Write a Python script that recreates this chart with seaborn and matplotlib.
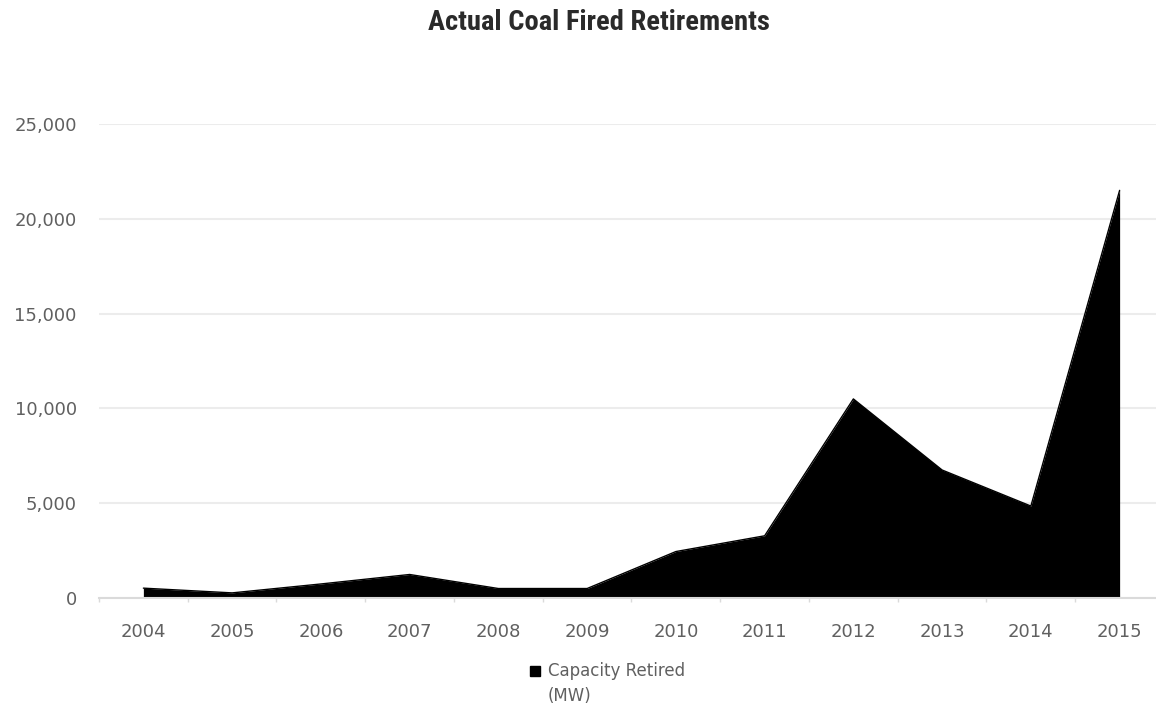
import matplotlib
matplotlib.use("Agg")
import matplotlib.pyplot as plt
import matplotlib.ticker as mticker
from matplotlib.lines import Line2D
import seaborn as sns
import pandas as pd

years = ["2004", "2005", "2006", "2007", "2008", "2009",
         "2010", "2011", "2012", "2013", "2014", "2015"]
capacity_mw = [520, 270, 740, 1240, 500, 500,
               2450, 3280, 10500, 6750, 4850, 21500]
y_ticks = [0, 5000, 10000, 15000, 20000, 25000]
title = "Actual Coal Fired Retirements"
legend_label = "Capacity Retired\n(MW)"

df = pd.DataFrame({"year": years, "capacity": capacity_mw})
df["pos"] = range(len(df))

sns.set_theme(style="white")
plt.rcParams["font.family"] = ["DejaVu Sans"]

fig = plt.figure(figsize=(11.56, 7.06), dpi=100)
W, H = 1156, 706
left, right, bottom_px, top_px = 99, 1164, 598, 124
ax = fig.add_axes([left / W, (H - bottom_px) / H,
                   (right - left) / W, (bottom_px - top_px) / H])

ax.fill_between(df["pos"], 0, df["capacity"], color="black", linewidth=0, zorder=3)
sns.lineplot(data=df, x="pos", y="capacity", ax=ax, color="black",
             linewidth=1, zorder=3)

ax.set_xlim(-0.5, len(years) - 0.5)
ax.set_ylim(0, 25000)
ax.set_yticks(y_ticks)
ax.yaxis.set_major_formatter(mticker.FuncFormatter(lambda v, p: f"{int(v):,}"))
ax.set_xticks(range(len(years)))
ax.set_xticklabels(years)
ax.xaxis.set_minor_locator(mticker.FixedLocator([i - 0.5 for i in range(len(years) + 1)]))

ax.grid(axis="y", color="#ececec", linewidth=1.5, zorder=0)
ax.set_axisbelow(True)
for s in ["top", "right", "left"]:
    ax.spines[s].set_visible(False)
ax.spines["bottom"].set_color("#dadada")
ax.spines["bottom"].set_linewidth(1.5)
ax.spines["bottom"].set_zorder(4)

ax.tick_params(axis="y", length=0, pad=16, labelsize=13, labelcolor="#606060")
ax.tick_params(axis="x", which="major", length=0, pad=18, labelsize=13, labelcolor="#606060")
ax.tick_params(axis="x", which="minor", length=3, width=1, color="#dadada", bottom=True)
ax.set_xlabel("")
ax.set_ylabel("")

fig.text(0.518, 0.968, title, ha="center", va="center", fontsize=20.5,
         fontweight="bold", color="#2a2a2a",
         family=["Liberation Sans Narrow", "Roboto Condensed", "Roboto"])

handle = Line2D([], [], marker="s", color="none", markerfacecolor="black",
                markeredgecolor="black", markersize=7)
leg = fig.legend([handle], [legend_label], loc="center", bbox_to_anchor=(0.525, 0.032),
                 frameon=False, fontsize=12, labelcolor="#606060", handlelength=0.7,
                 handletextpad=0.4)
leg.get_texts()[0].set_linespacing(1.5)
lh = leg.legend_handles[0]
yd = lh.get_ydata()
lh.set_ydata([v + 10 for v in yd])

fig.savefig("out.png", dpi=100)
